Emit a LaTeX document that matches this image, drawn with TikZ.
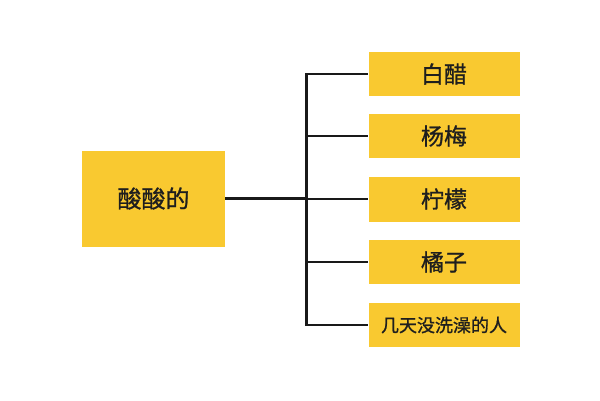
\documentclass[tikz,border=0pt]{standalone}
\usepackage{fontspec}
\newfontfamily\cjk[FakeBold=1]{Noto Sans CJK SC}
\definecolor{boxyellow}{RGB}{249,201,48}
\definecolor{txt}{RGB}{30,30,30}
\begin{document}
\begin{tikzpicture}[x=1pt,y=-1pt,
  ybox/.style={fill=boxyellow, draw=none, inner sep=0pt, text=txt, font=\cjk\fontsize{23}{26}\selectfont},
  conn/.style={line width=2.5pt, draw=black!90}]
\useasboundingbox (0,0) rectangle (600,400);
\node[ybox, minimum width=143pt, minimum height=96pt, font=\cjk\fontsize{24}{28}\selectfont] (root) at (153.5,198.5) {酸酸的};
\node[ybox, minimum width=151pt, minimum height=44pt] (a) at (444,74) {白醋};
\node[ybox, minimum width=151pt, minimum height=44pt] (b) at (444,136) {杨梅};
\node[ybox, minimum width=151pt, minimum height=45pt] (c) at (444,199) {柠檬};
\node[ybox, minimum width=151pt, minimum height=44pt] (d) at (444,262) {橘子};
\node[ybox, minimum width=151pt, minimum height=44pt, font=\cjk\fontsize{18}{21}\selectfont] (e) at (444,325) {几天没洗澡的人};
\coordinate (top) at (306.5,74);
\coordinate (bot) at (306.5,325);
\draw[conn] (root.east) -- (root.east -| top);
\draw[conn, line cap=rect] (top) -- (bot);
\foreach \n in {a,b,c,d,e} \draw[conn] (top |- \n.west) -- (\n.west);
\end{tikzpicture}
\end{document}
